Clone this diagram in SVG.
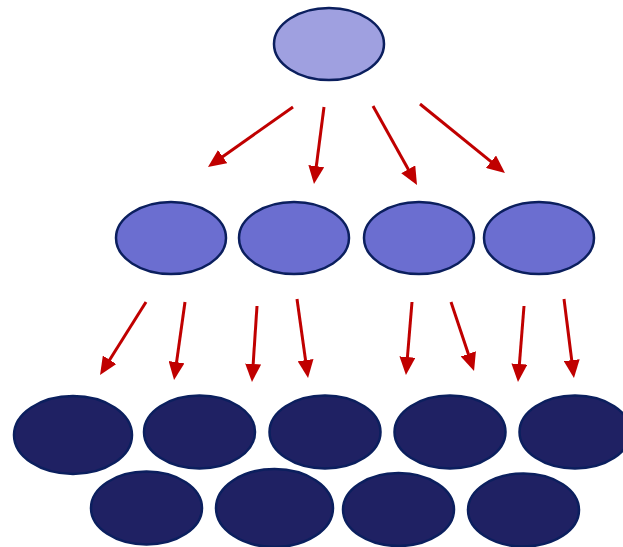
<svg xmlns="http://www.w3.org/2000/svg" width="623" height="547" viewBox="0 0 623 547">
<style>
.n ellipse{stroke:#0B1F5E;stroke-width:2.5}
.l1{fill:#9FA0E0}
.l2{fill:#6B6ED0}
.l3{fill:#1F2163}
#connectors line{stroke:#C00000;stroke-width:3;marker-end:url(#ah)}
</style>
<defs>
<marker id="ah" markerUnits="userSpaceOnUse" markerWidth="18" markerHeight="16" viewBox="0 0 18 16" refX="4" refY="8" orient="auto">
<path d="M0,0 L18,8 L0,16 z" fill="#C00000"/>
</marker>
</defs>
<rect width="623" height="547" fill="#FFFFFF"/>
<g id="connectors">
<line x1="293" y1="107" x2="219.4" y2="158.9"/>
<line x1="324" y1="107" x2="315.8" y2="170.1"/>
<line x1="373" y1="106" x2="410.2" y2="172.8"/>
<line x1="420" y1="104" x2="494.1" y2="164.2"/>
<line x1="146" y1="302" x2="107.5" y2="363.2"/>
<line x1="185" y1="302" x2="176" y2="366.1"/>
<line x1="257" y1="306" x2="252.9" y2="368"/>
<line x1="297" y1="299" x2="306.1" y2="364.1"/>
<line x1="412" y1="302" x2="407.1" y2="361"/>
<line x1="451" y1="302" x2="469.6" y2="357.7"/>
<line x1="524" y1="306" x2="519.1" y2="368"/>
<line x1="564" y1="299" x2="572.2" y2="364.1"/>
</g>
<g id="root" class="n"><ellipse class="l1" cx="329" cy="44" rx="55" ry="36"/></g>
<g id="m1" class="n"><ellipse class="l2" cx="171" cy="238" rx="55" ry="36"/></g>
<g id="m2" class="n"><ellipse class="l2" cx="294" cy="238" rx="55" ry="36"/></g>
<g id="m3" class="n"><ellipse class="l2" cx="419" cy="238" rx="55" ry="36"/></g>
<g id="m4" class="n"><ellipse class="l2" cx="539" cy="238" rx="55" ry="36"/></g>
<g id="b1" class="n"><ellipse class="l3" cx="73" cy="435" rx="59" ry="39"/></g>
<g id="b2" class="n"><ellipse class="l3" cx="199.5" cy="432" rx="55.5" ry="36.5"/></g>
<g id="b3" class="n"><ellipse class="l3" cx="325" cy="432" rx="55.5" ry="36.5"/></g>
<g id="b4" class="n"><ellipse class="l3" cx="450" cy="432" rx="55.5" ry="36.5"/></g>
<g id="b5" class="n"><ellipse class="l3" cx="575" cy="432" rx="55.5" ry="36.5"/></g>
<g id="b6" class="n"><ellipse class="l3" cx="146.5" cy="508" rx="55.5" ry="36.5"/></g>
<g id="b7" class="n"><ellipse class="l3" cx="274.5" cy="508" rx="58.5" ry="39"/></g>
<g id="b8" class="n"><ellipse class="l3" cx="398.5" cy="509.5" rx="55.5" ry="36.5"/></g>
<g id="b9" class="n"><ellipse class="l3" cx="523.5" cy="510" rx="55.5" ry="36.5"/></g>
</svg>
